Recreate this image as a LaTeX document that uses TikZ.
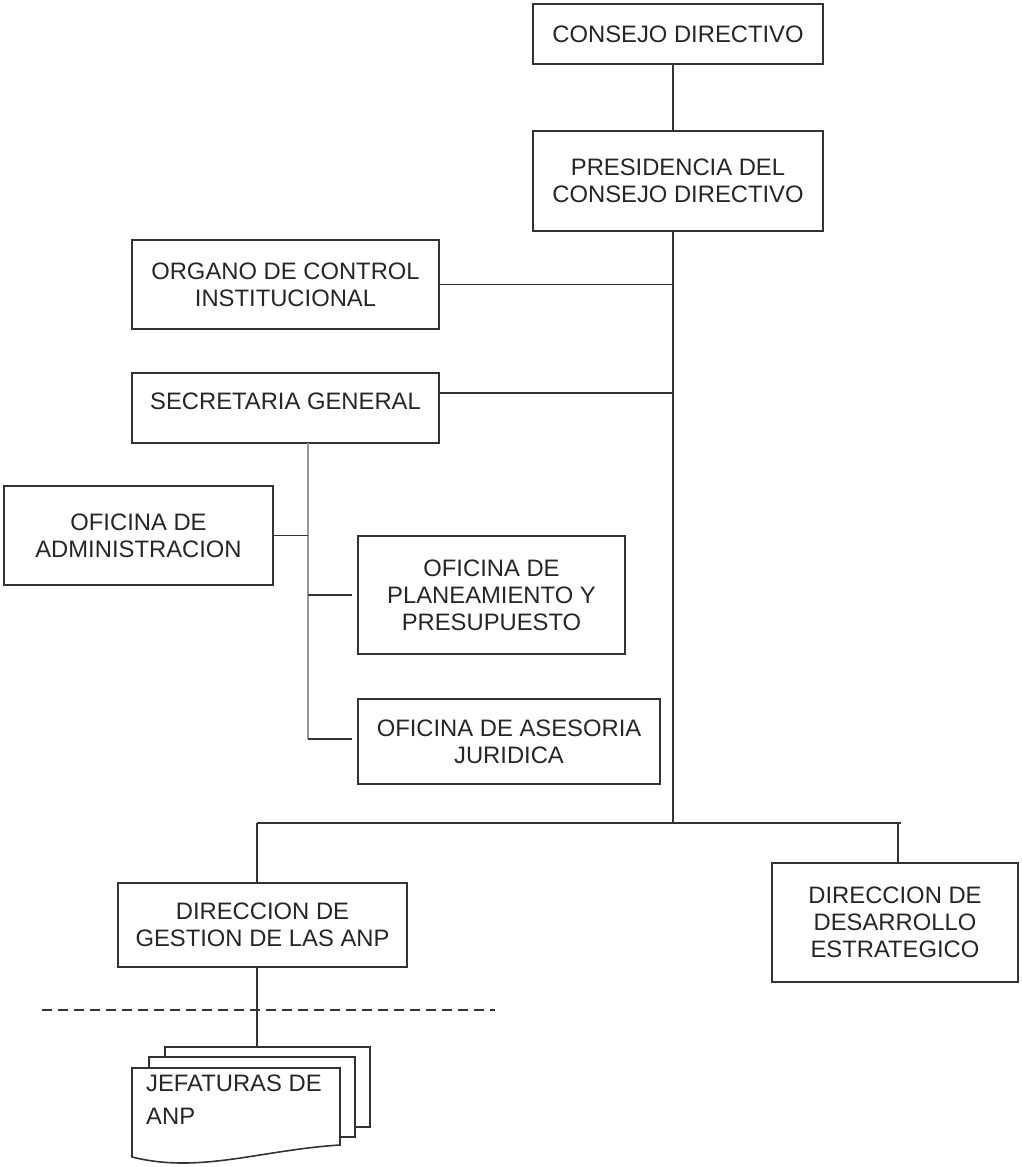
\documentclass[tikz,border=0pt]{standalone}
\usepackage{fontspec}
\setmainfont{Liberation Sans}
\usetikzlibrary{positioning}

\begin{document}
\begin{tikzpicture}[x=1pt,y=-1pt,
    unit/.style={draw=black!80, line width=1.8pt, align=center, inner sep=0pt,
      font=\fontsize{23.8}{27}\selectfont, text=black!85},
    link/.style={draw=black!80, line width=1.7pt},
    sublink/.style={draw=black!40, line width=1.7pt},
    sheet/.style={draw=black!80, line width=1.6pt, fill=white, inner sep=0pt}]
        \useasboundingbox (0,0) rectangle (1021,1167);

        \node[unit, minimum width=290pt, minimum height=60pt] (consejo) at (678,34) {CONSEJO DIRECTIVO};
        \node[unit, minimum width=290pt, minimum height=100pt, below=65pt of consejo] (presid) {PRESIDENCIA DEL\\CONSEJO DIRECTIVO};

        \node[unit, minimum width=307pt, minimum height=89pt] (organo) at (285.5,284.5) {ORGANO DE CONTROL\\INSTITUCIONAL};
        \node[unit, minimum width=307pt, minimum height=70pt] (secre) at (285.5,408) {SECRETARIA GENERAL\\[-14pt]\mbox{}};

        \node[unit, minimum width=269pt, minimum height=99pt] (admin) at (138.5,535.5) {OFICINA DE\\ADMINISTRACION};
        \node[unit, minimum width=267pt, minimum height=118pt] (plan) at (491.5,595) {OFICINA DE\\PLANEAMIENTO Y\\PRESUPUESTO};
        \node[unit, minimum width=302pt, minimum height=85pt] (ases) at (509,741.5) {OFICINA DE ASESORIA\\JURIDICA};

        \node[unit, minimum width=289pt, minimum height=84pt] (gestion) at (262.5,925) {DIRECCION DE\\GESTION DE LAS ANP};
        \node[unit, minimum width=246pt, minimum height=119pt] (desarr) at (895,922.5) {DIRECCION DE\\DESARROLLO\\ESTRATEGICO};

        % jefaturas (stack of sheets)
        \node[sheet, minimum width=205pt, minimum height=80pt] (jback) at (267.5,1087) {};
        \node[sheet, minimum width=206pt, minimum height=80pt] (jmid) at (252,1097) {};
        \draw[sheet] (132,1068) -- (340,1068) -- (340,1145)
            .. controls (260,1150) and (200,1174) .. (132,1157) -- cycle;
        \node[anchor=north west, align=left, inner sep=0pt, text=black!85,
            font=\fontsize{23.8}{33}\selectfont] (jefe) at (146,1075) {JEFATURAS DE\\ANP};

        \coordinate (trunk) at (673,823);
        \coordinate (busL) at (257,823);
        \coordinate (busR) at (898,823);
        \coordinate (sgtop) at (308,443);
        \coordinate (sgend) at (308,739);

        \draw[link] (consejo.south -| trunk) -- (presid.north -| trunk);
        \draw[link] (presid.south -| trunk) -- (trunk);
        \draw[link] (organo.east) -- (organo.east -| trunk);
        \draw[link] ([yshift=15pt]secre.east) -- ([yshift=15pt]secre.east -| trunk);

        \draw[sublink] (sgtop) -- (sgend);
        \draw[link] (admin.east) -- (admin.east -| sgtop);
        \draw[link, shorten >=5pt] (plan.west -| sgtop) -- (plan.west);
        \draw[link, shorten >=5pt] (sgend) -- (sgend -| ases.west);

        \draw[link] (busL) -- ([xshift=3pt]busR);
        \draw[link] (busL) -- (busL |- gestion.north);
        \draw[link] (busR) -- (busR |- desarr.north);
        \draw[link] (gestion.south -| busL) -- (jback.north -| busL);

        \draw[link, dash pattern=on 10pt off 6pt] (42,1010) -- (495,1010);
\end{tikzpicture}
\end{document}
